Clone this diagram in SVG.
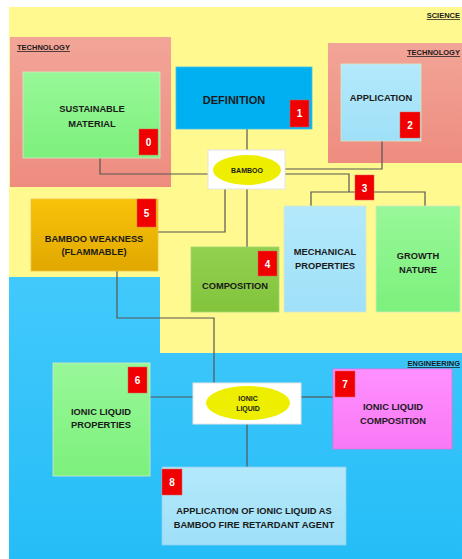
<svg xmlns="http://www.w3.org/2000/svg" width="462" height="559" viewBox="0 0 462 559">
<defs>
<linearGradient id="gBlue" x1="0" y1="0" x2="0" y2="1"><stop offset="0" stop-color="#42c9fb"/><stop offset="1" stop-color="#25bdf7"/></linearGradient>
<linearGradient id="gTech" x1="0" y1="0" x2="0" y2="1"><stop offset="0" stop-color="#f2a597"/><stop offset="1" stop-color="#ee8c7f"/></linearGradient>
<linearGradient id="gGreen" x1="0" y1="0" x2="0" y2="1"><stop offset="0" stop-color="#98f898"/><stop offset="1" stop-color="#7cf07c"/></linearGradient>
<linearGradient id="gLight" x1="0" y1="0" x2="0" y2="1"><stop offset="0" stop-color="#b4e9fb"/><stop offset="1" stop-color="#9fe0f8"/></linearGradient>
<linearGradient id="gOrange" x1="0" y1="0" x2="0" y2="1"><stop offset="0" stop-color="#f8c30a"/><stop offset="1" stop-color="#e0a800"/></linearGradient>
<linearGradient id="gComp" x1="0" y1="0" x2="0" y2="1"><stop offset="0" stop-color="#92d050"/><stop offset="1" stop-color="#82c43c"/></linearGradient>
<linearGradient id="gPink" x1="0" y1="0" x2="0" y2="1"><stop offset="0" stop-color="#ff90ff"/><stop offset="1" stop-color="#f879f5"/></linearGradient>
</defs>
<style>
text{font-family:"Liberation Sans",Arial,sans-serif;font-weight:bold;fill:#1a1a1a;text-anchor:middle}
.lbl{font-size:9.3px}
.badge{fill:#f00000;stroke:#e06060;stroke-width:0.5}
.num{font-size:10px;fill:#ffffff}
.sec{font-size:7.5px;text-decoration:underline;text-anchor:start}
.secr{font-size:7.5px;text-decoration:underline;text-anchor:end}
.box{stroke:#d8e8c8;stroke-width:0.8}
.conn{fill:none;stroke:#555555;stroke-width:1.2}
.hub{fill:#ffffff;stroke:#e4e4e4;stroke-width:1}
.ell{fill:#eeee00}
.small{font-size:7px}
</style>
<!-- backgrounds -->
<rect x="0" y="0" width="462" height="559" fill="#ffffff"/>
<rect x="9" y="7" width="453" height="346" fill="#fff98f"/>
<path d="M9,277 H160 V353 H462 V559 H9 Z" fill="url(#gBlue)"/>
<text class="secr" x="460" y="18">SCIENCE</text>
<text class="secr" x="460" y="366">ENGINEERING</text>
<!-- technology areas -->
<g id="tech-left">
<rect x="10" y="37" width="161" height="150" fill="url(#gTech)"/>
<text class="sec" x="17" y="50">TECHNOLOGY</text>
</g>
<g id="tech-right">
<rect x="328" y="43" width="134" height="120" fill="url(#gTech)"/>
<text class="sec" x="407" y="55">TECHNOLOGY</text>
</g>
<!-- connectors -->
<g id="connectors">
<path class="conn" d="M100,158 V174 H208"/>
<path class="conn" d="M247,129 V150"/>
<path class="conn" d="M382,141 V169 H285"/>
<path class="conn" d="M285,174 H349 V192"/>
<path class="conn" d="M311,206 V192 H425 V207"/>
<path class="conn" d="M225,189 V232 H158"/>
<path class="conn" d="M247,189 V247"/>
<path class="conn" d="M117,271 V318 H214 V383"/>
<path class="conn" d="M150,397 H193"/>
<path class="conn" d="M301,397 H333"/>
<path class="conn" d="M247,424 V467"/>
</g>
<!-- nodes -->
<g id="node0">
<rect class="box" x="23" y="72" width="137" height="86" fill="url(#gGreen)"/>
<text class="lbl" x="92" y="112">SUSTAINABLE</text>
<text class="lbl" x="92" y="127">MATERIAL</text>
<rect class="badge" x="139" y="129" width="19" height="26"/>
<text class="num" x="148.5" y="146">0</text>
</g>
<g id="node1">
<rect x="176" y="67" width="136" height="62" fill="#00b0f0" stroke="#40c0f0" stroke-width="0.8"/>
<text x="234" y="104" font-size="11px">DEFINITION</text>
<rect class="badge" x="290" y="100" width="19" height="27"/>
<text class="num" x="299.5" y="117">1</text>
</g>
<g id="node2">
<rect class="box" x="341" y="64" width="80" height="77" fill="url(#gLight)"/>
<text class="lbl" x="381" y="101">APPLICATION</text>
<rect class="badge" x="400" y="112" width="20" height="26"/>
<text class="num" x="410" y="129">2</text>
</g>
<g id="bamboo">
<rect class="hub" x="208" y="150" width="77" height="39"/>
<ellipse class="ell" cx="247" cy="170" rx="34" ry="15"/>
<text class="small" x="247" y="172.5">BAMBOO</text>
</g>
<g id="node3">
<rect class="badge" x="355" y="175" width="19" height="25"/>
<text class="num" x="364.5" y="191.5">3</text>
</g>
<g id="mechanical">
<rect class="box" x="284" y="206" width="82" height="106" fill="url(#gLight)"/>
<text class="lbl" x="325" y="255">MECHANICAL</text>
<text class="lbl" x="325" y="269">PROPERTIES</text>
</g>
<g id="growth">
<rect class="box" x="376" y="206" width="84" height="106" fill="url(#gGreen)"/>
<text class="lbl" x="418" y="259">GROWTH</text>
<text class="lbl" x="418" y="273">NATURE</text>
</g>
<g id="node4">
<rect x="191" y="247" width="88" height="65" fill="url(#gComp)" stroke="#a0d870" stroke-width="0.8"/>
<text class="lbl" x="235" y="289">COMPOSITION</text>
<rect class="badge" x="258" y="251" width="19" height="25"/>
<text class="num" x="267.5" y="267.5">4</text>
</g>
<g id="node5">
<rect x="31" y="199" width="127" height="72" fill="url(#gOrange)" stroke="#f0c040" stroke-width="0.8"/>
<text class="lbl" x="94" y="242">BAMBOO WEAKNESS</text>
<text class="lbl" x="94" y="255">(FLAMMABLE)</text>
<rect class="badge" x="137" y="199" width="19" height="28"/>
<text class="num" x="146.5" y="217">5</text>
</g>
<g id="node6">
<rect class="box" x="53" y="363" width="97" height="113" fill="url(#gGreen)"/>
<text class="lbl" x="101" y="415">IONIC LIQUID</text>
<text class="lbl" x="101" y="428">PROPERTIES</text>
<rect class="badge" x="128" y="367" width="19" height="26"/>
<text class="num" x="137.5" y="384">6</text>
</g>
<g id="ionic">
<rect class="hub" x="193" y="383" width="108" height="41"/>
<ellipse class="ell" cx="248" cy="403" rx="42" ry="17"/>
<text class="small" x="248" y="401" font-size="6.5px">IONIC</text>
<text class="small" x="248" y="411" font-size="6.5px">LIQUID</text>
</g>
<g id="node7">
<rect x="333" y="369" width="119" height="80" fill="url(#gPink)" stroke="#e070e0" stroke-width="0.8"/>
<text class="lbl" x="393" y="410">IONIC LIQUID</text>
<text class="lbl" x="393" y="424">COMPOSITION</text>
<rect class="badge" x="335" y="371" width="20" height="26"/>
<text class="num" x="345" y="388">7</text>
</g>
<g id="node8">
<rect x="162" y="467" width="184" height="78" fill="url(#gLight)" stroke="#90d0f0" stroke-width="0.8"/>
<text class="lbl" x="254" y="514">APPLICATION OF IONIC LIQUID AS</text>
<text class="lbl" x="254" y="528">BAMBOO FIRE RETARDANT AGENT</text>
<rect class="badge" x="162" y="469" width="20" height="26"/>
<text class="num" x="172" y="486">8</text>
</g>
</svg>
